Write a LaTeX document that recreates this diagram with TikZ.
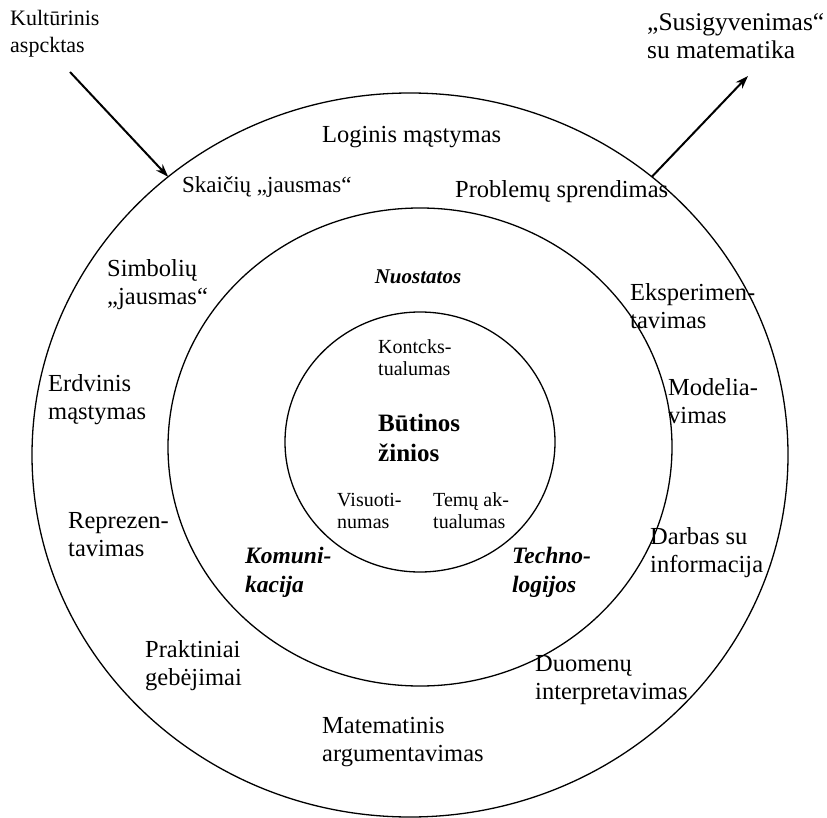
\documentclass[tikz,border=0pt]{standalone}
\usepackage{fontspec}
\setmainfont{Liberation Serif}
\usetikzlibrary{shapes.geometric,arrows.meta}
\begin{document}
\begin{tikzpicture}[x=1pt,y=-1pt,
  ring/.style={ellipse,draw,line width=1.3pt,inner sep=0pt,outer sep=0pt},
  lab/.style={anchor=west,align=left,inner sep=0pt,font=\fontsize{24.5}{28}\selectfont},
  toplab/.style={anchor=west,align=left,inner sep=0pt,font=\fontsize{22}{27}\selectfont},
  small/.style={anchor=west,align=left,inner sep=0pt,font=\fontsize{20}{22}\selectfont},
  emphlab/.style={anchor=west,align=left,inner sep=0pt,font=\fontsize{23.5}{29}\selectfont\bfseries\itshape},
  boldlab/.style={anchor=west,align=left,inner sep=0pt,font=\fontsize{25}{30}\selectfont\bfseries},
  arr/.style={line width=2pt,-{Stealth[length=13pt,width=9pt]}}]
\useasboundingbox (0,0) rectangle (827,818);
% rings
\node[ring,minimum width=756pt,minimum height=724pt] (outer) at (410,455) {};
\node[ring,minimum width=504pt,minimum height=478pt] (middle) at (420,447) {};
\node[ring,minimum width=270pt,minimum height=260pt] (inner) at (420,442) {};
% outside labels and arrows
\node[toplab] (kult) at (10,34) {Kultūrinis\\aspcktas};
\node[lab,font=\fontsize{25.5}{28}\selectfont] (susi) at (647,36) {„Susigyvenimas“\\su matematika};
\coordinate (kA) at (70,72);
\coordinate (sA) at (748,76);
\draw[arr] (kA) -- (outer.131);
\draw[arr] (outer.49) -- (sA);
% outer ring labels
\node[lab] (log) at (322,137) {Loginis mąstymas};
\node[lab,font=\fontsize{23}{28}\selectfont] (skai) at (182,187) {Skaičių „jausmas“};
\node[lab] (prob) at (455,192) {Problemų sprendimas};
\node[lab] (simb) at (107,285) {Simbolių\\„jausmas“};
\node[lab] (eksp) at (630,306) {Eksperimen-\\tavimas};
\node[lab] (erdv) at (48,400) {Erdvinis\\mąstymas};
\node[lab] (mod) at (668,401) {Modelia-\\vimas};
\node[lab] (repr) at (68,535) {Reprezen-\\tavimas};
\node[lab] (darb) at (650,553) {Darbas su\\informacija};
\node[lab] (prak) at (145,666) {Praktiniai\\gebėjimai};
\node[lab] (duom) at (535,680) {Duomenų\\interpretavimas};
\node[lab] (mat) at (322,742) {Matematinis\\argumentavimas};
% middle ring labels
\node[emphlab,font=\fontsize{21}{25}\selectfont\bfseries\itshape,anchor=center] (nuo) at (418,277) {Nuostatos};
\node[emphlab] (kom) at (245,572) {Komuni-\\kacija};
\node[emphlab] (tech) at (512,572) {Techno-\\logijos};
% inner circle labels
\node[small] (kont) at (378,358) {Kontcks-\\tualumas};
\node[boldlab] (but) at (378,438) {Būtinos\\žinios};
\node[small] (vis) at (337,511) {Visuoti-\\numas};
\node[small] (tem) at (433,511) {Temų ak-\\tualumas};
\end{tikzpicture}
\end{document}
